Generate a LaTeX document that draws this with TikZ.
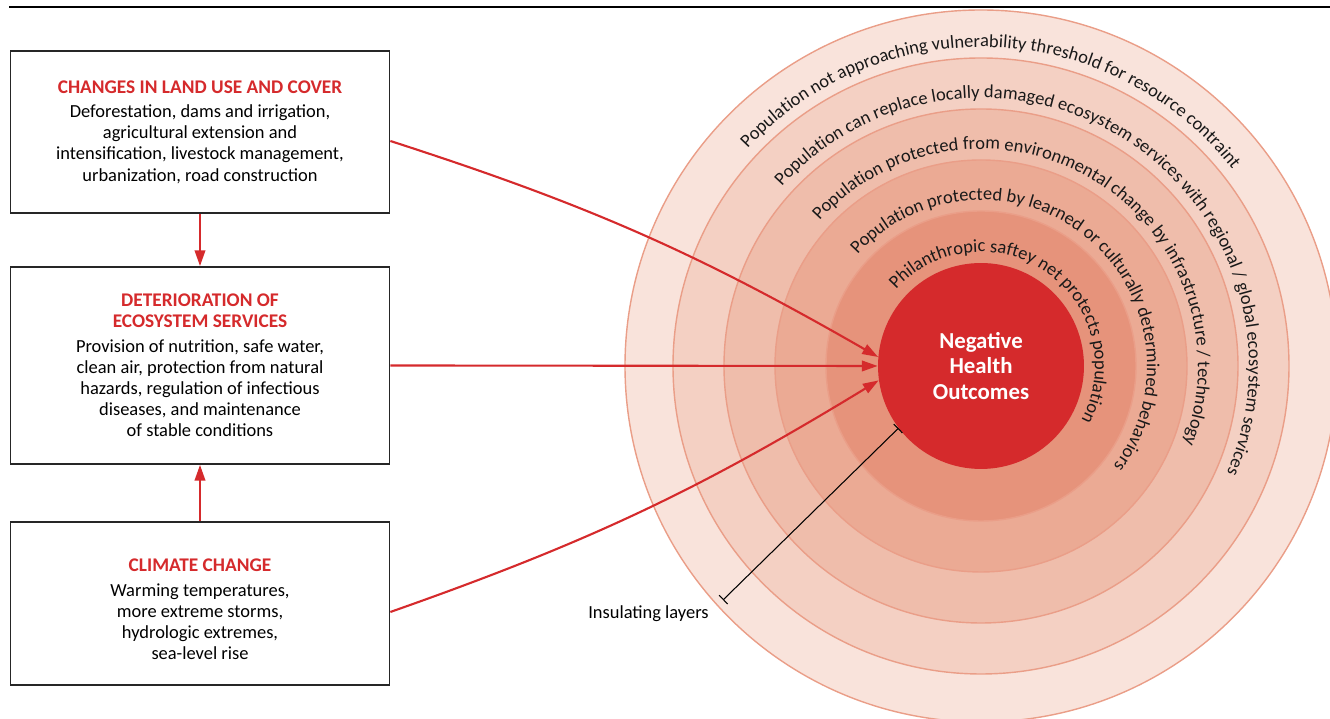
\documentclass[tikz,border=0pt]{standalone}
\usepackage{fontspec}
\setmainfont{Carlito}
\usetikzlibrary{arrows.meta,decorations.text,positioning}
\definecolor{hred}{RGB}{213,42,44}
\definecolor{ringA}{RGB}{249,227,219}
\definecolor{ringB}{RGB}{244,208,195}
\definecolor{ringC}{RGB}{239,189,171}
\definecolor{ringD}{RGB}{235,170,148}
\definecolor{ringE}{RGB}{230,147,123}
\definecolor{ringline}{RGB}{234,158,136}
\tikzset{
  box/.style={draw=black!85,line width=1pt,minimum width=7.58cm,align=center,
    font=\fontsize{10.5}{12}\selectfont},
  flow/.style={hred,line width=1.2pt,-{Triangle[length=9pt,width=6pt]}},
  ringtext/.style={decorate,decoration={text along path,text align=left,
    text={|\fontsize{10.5}{12}\selectfont\color{black!90}|#1}}}
}
\newcommand{\boxhead}[1]{\textcolor{hred}{\fontsize{11}{12}\selectfont\bfseries #1}}
\begin{document}
\begin{tikzpicture}[x=0.02cm,y=0.02cm]
  \useasboundingbox (0,0) rectangle (1330,719);
  \clip (0,0) rectangle (1330,719);
  \draw[line width=1.1pt] (9,712) -- (1330,712);
  % insulating layers
  \coordinate (hub) at (981,353);
  \foreach \r/\c in {356/ringA,308/ringB,257/ringC,206/ringD,155/ringE}
    {\draw[ringline,line width=0.8pt,fill=\c] (hub) circle (\r);}
  \path[ringtext={Population not approaching vulnerability threshold for resource contraint}]
    (hub) ++(137:319) arc[start angle=137,end angle=-90,radius=319];
  \path[ringtext={Population can replace locally damaged ecosystem services with regional / global ecosystem services}]
    (hub) ++(138:268) arc[start angle=138,end angle=-90,radius=268];
  \path[ringtext={Population protected from environmental change by infrastructure / technology}]
    (hub) ++(138:217) arc[start angle=138,end angle=-90,radius=217];
  \path[ringtext={Population protected by learned or culturally determined behaviors}]
    (hub) ++(138:166) arc[start angle=138,end angle=-90,radius=166];
  \path[ringtext={Philanthropic saftey net protects population}]
    (hub) ++(138:114) arc[start angle=138,end angle=-90,radius=114];
  \node[circle,fill=hred,minimum size=4.12cm,inner sep=0pt,text=white,align=center,
    font=\bfseries\fontsize{13}{14.5}\selectfont] (outcome) at (hub) {Negative\\Health\\Outcomes};
  % boxes
  \node[box,minimum height=3.24cm] (landuse) at (200,587)
    {\boxhead{CHANGES IN LAND USE AND COVER}\\[2pt]
     Deforestation, dams and irrigation,\\agricultural extension and\\
     intensification, livestock management,\\urbanization, road construction};
  \node[box,minimum height=3.94cm] (ecoserv) at (200,353.5)
    {\boxhead{DETERIORATION OF}\\\boxhead{ECOSYSTEM SERVICES}\\[2pt]
     Provision of nutrition, safe water,\\clean air, protection from natural\\
     hazards, regulation of infectious\\diseases, and maintenance\\of stable conditions};
  \node[box,minimum height=3.26cm] (climate) at (200,115.5)
    {\rule{0pt}{14pt}\boxhead{CLIMATE CHANGE}\\[2pt]
     Warming temperatures,\\more extreme storms,\\hydrologic extremes,\\sea-level rise};
  % arrows
  \draw[flow] (landuse) -- (ecoserv);
  \draw[flow] (climate) -- (ecoserv);
  \draw[flow] ([yshift=-0.18cm]landuse.east) to[bend left=6] (outcome.175);
  \draw[flow] (ecoserv.east) -- (outcome.180);
  \draw[flow] ([yshift=-0.17cm]climate.east) to[bend right=6] (outcome.188);
  \coordinate (layers) at (723,119);
  \draw[line width=0.6pt,{Bar[width=7pt]}-{Bar[width=7pt]}] (outcome.217) -- (layers);
  \node[anchor=north east,inner sep=0pt,font=\fontsize{10.5}{12}\selectfont] at (709,114) {Insulating layers};
\end{tikzpicture}
\end{document}
